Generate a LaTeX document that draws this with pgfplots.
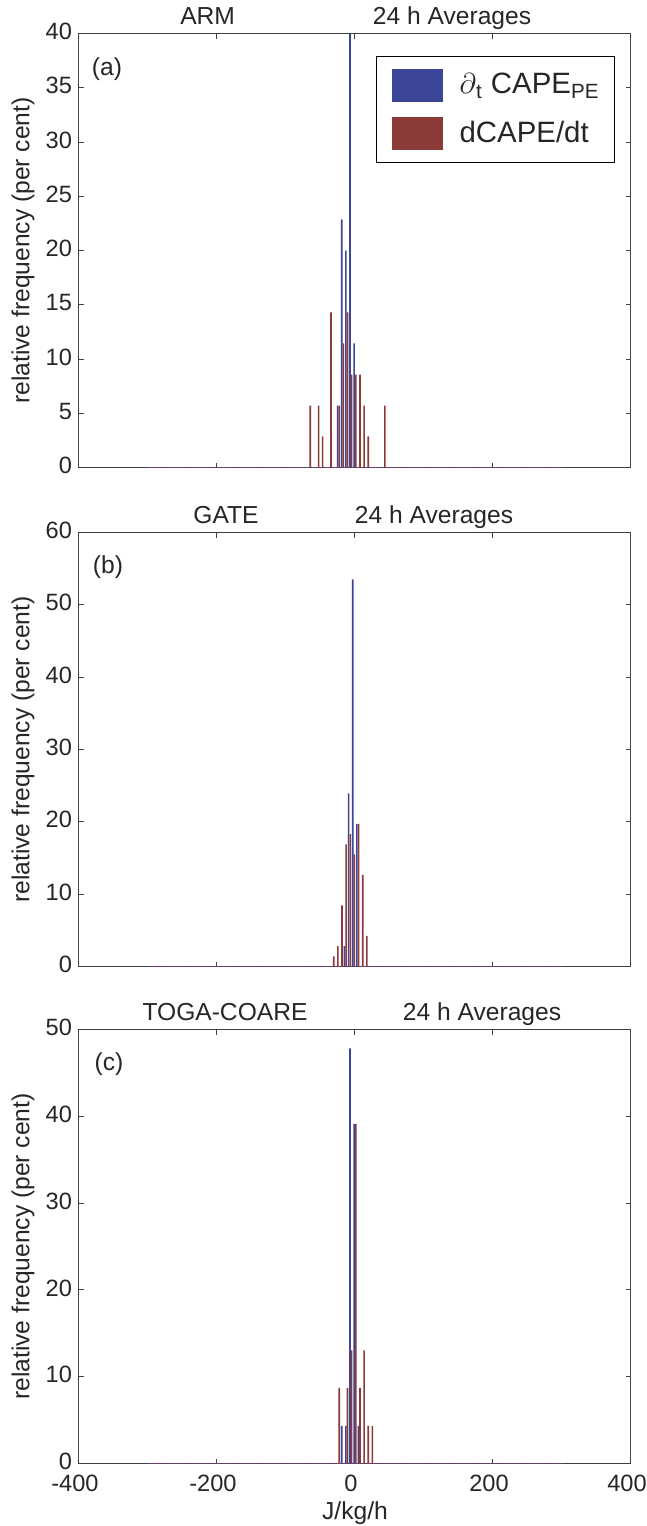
\documentclass[border=0pt]{standalone}
\usepackage{fontspec}
\setmainfont{Liberation Sans}
\usepackage{pgfplots}
\pgfplotsset{compat=1.18}
\definecolor{cblue}{RGB}{61,69,153}
\definecolor{cred}{RGB}{140,58,56}
\definecolor{txt}{RGB}{38,38,38}
\newcommand{\lf}{\fontsize{12.3}{14}\selectfont}
\newcommand{\tf}{\fontsize{11.8}{14}\selectfont}
\pgfplotsset{
  panel/.style={
    scale only axis, width=276pt, height=217pt,
    xmin=-400, xmax=400, xtick={-400,-200,0,200,400},
    tick align=inside, major tick length=2.5pt,
    ticklabel style={font=\tf, text=txt},
    xticklabel style={yshift=-2pt, xshift=-2pt},
    yticklabel style={yshift=1pt},
    /pgf/number format/assume math mode=true,
    axis line style={black!75, line width=0.5pt},
    every tick/.style={black!75, line width=0.5pt},
    ylabel={relative frequency (per cent)},
    ylabel style={at={(axis description cs:-0.1014,0.5)}, anchor=center, font=\lf, text=txt},
    ymin=0,
  },
  hb/.style={ybar, bar width=2.3, bar shift=-1.2, fill=cblue, draw=none},
  hr/.style={ybar, bar width=2.3, bar shift=1.2, fill=cred, draw=none},
  bl/.style={cblue, line width=0.7pt, dash pattern=on 1.5pt off 1.5pt},
  rl/.style={cred, line width=0.7pt, dash pattern=on 1.5pt off 1.5pt, dash phase=1.5pt},
}
\begin{document}
\begin{tikzpicture}
\useasboundingbox (-39.5pt,-529.25pt) rectangle (284pt,233.75pt);
% ---------- (a) ARM
\begin{axis}[panel, name=a, at={(0,0)}, anchor=south west,
  ymax=40, ytick={0,5,...,40}, xticklabels={},
  legend style={at={(rel axis cs:1,1)}, anchor=north east, xshift=-8pt, yshift=-11pt,
    draw=black, line width=0.5pt, fill=white, font=\fontsize{14.7}{17}\selectfont, text=txt,
    inner xsep=7.5pt, inner ysep=6.3pt, row sep=7.5pt, nodes={inner sep=0pt},
    /tikz/every odd column/.append style={column sep=8.5pt}},
  legend cell align=left]
\addlegendimage{legend image code/.code={\fill[cblue] (0pt,-8pt) rectangle (25pt,8pt);}}
\addlegendentry{{$\partial$}\textsubscript{t} CAPE\textsubscript{PE}}
\addlegendimage{legend image code/.code={\fill[cred] (0pt,-8pt) rectangle (25pt,8pt);}}
\addlegendentry{dCAPE/dt}
\addplot[bl] coordinates {(-300,0) (300,0)};
\addplot[rl] coordinates {(-300,0) (300,0)};
\addplot[hb] coordinates {(-24,5.71) (-18,22.86) (-12,20.00) (-6,40.00) (0,11.43)};
\addplot[hr] coordinates {(-66,5.71) (-54,5.71) (-48,2.86) (-36,14.29) (-24,5.71) (-18,11.43) (-12,14.29) (-6,8.57) (0,8.57) (6,8.57) (12,5.71) (18,2.86) (42,5.71)};
\end{axis}
\path (a.north west) ++(64.3pt,4.5pt) node[anchor=base, font=\lf, text=txt] {ARM};
\path (a.north west) ++(186.5pt,4.5pt) node[anchor=base, font=\lf, text=txt] {24 h Averages};
\path (a.north west) ++(14pt,-18pt) node[font=\lf, text=txt] {(a)};
% ---------- (b) GATE
\begin{axis}[panel, name=b, at={(0,-249.5pt)}, anchor=south west,
  ymax=60, ytick={0,10,...,60}, xticklabels={}]
\addplot[bl] coordinates {(-300,0) (300,0)};
\addplot[rl] coordinates {(-300,0) (300,0)};
\addplot[hb] coordinates {(-14,2.82) (-8,23.94) (-2,53.52) (4,19.72)};
\addplot[hr] coordinates {(-32,1.41) (-26,2.82) (-20,8.45) (-14,16.90) (-8,18.31) (-2,15.49) (4,19.72) (10,12.68) (16,4.23)};
\end{axis}
\path (b.north west) ++(73.5pt,4.5pt) node[anchor=base, font=\lf, text=txt] {GATE};
\path (b.north west) ++(177.5pt,4.5pt) node[anchor=base, font=\lf, text=txt] {24 h Averages};
\path (b.north west) ++(14.5pt,-17.5pt) node[font=\lf, text=txt] {(b)};
% ---------- (c) TOGA-COARE
\begin{axis}[panel, name=c, at={(0,-498pt)}, anchor=south west,
  ymax=50, ytick={0,10,...,50},
  xlabel={J/kg/h},
  xlabel style={at={(axis description cs:0.5,-0.115)}, anchor=center, font=\lf, text=txt}]
\addplot[bl] coordinates {(-300,0) (300,0)};
\addplot[rl] coordinates {(-300,0) (300,0)};
\addplot[hb] coordinates {(-18,4.35) (-12,4.35) (-6,47.83) (0,39.13) (6,4.35)};
\addplot[hr] coordinates {(-24,8.70) (-12,8.70) (-6,13.04) (0,39.13) (6,8.70) (12,13.04) (18,4.35) (24,4.35)};
\end{axis}
\path (c.north west) ++(73pt,4.5pt) node[anchor=base, font=\lf, text=txt] {TOGA-COARE};
\path (c.north west) ++(201.5pt,4.5pt) node[anchor=base, font=\lf, text=txt] {24 h Averages};
\path (c.north west) ++(15pt,-17.5pt) node[font=\lf, text=txt] {(c)};
\end{tikzpicture}
\end{document}
